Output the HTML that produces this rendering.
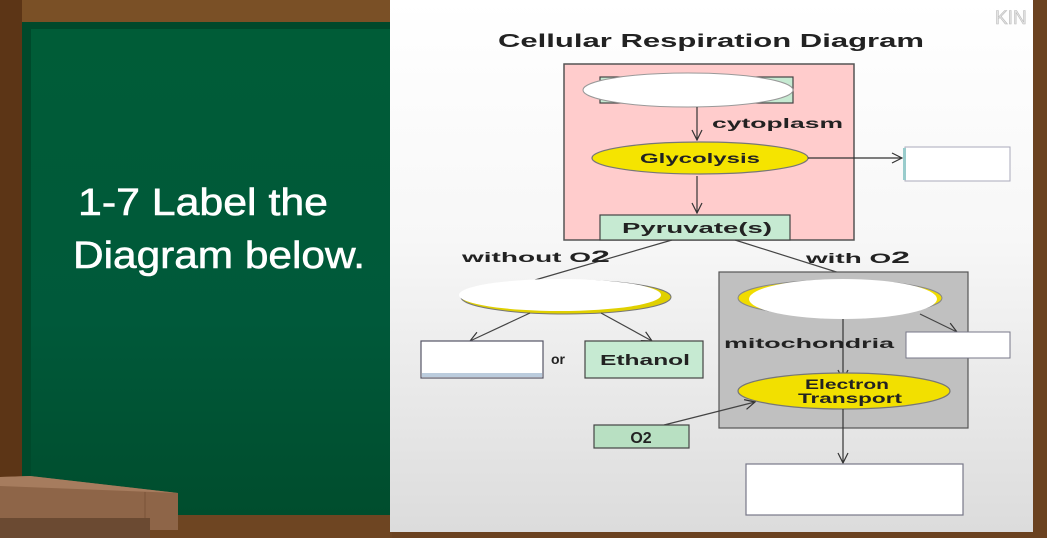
<!DOCTYPE html>
<html><head><meta charset="utf-8"><style>
html,body{margin:0;padding:0;width:1047px;height:538px;overflow:hidden;background:#6b4220}
svg{display:block}
</style></head><body>
<svg width="1047" height="538" viewBox="0 0 1047 538" xmlns="http://www.w3.org/2000/svg" font-family="Liberation Sans, sans-serif">
<defs>
<linearGradient id="bg" x1="0" y1="0" x2="0" y2="1">
<stop offset="0" stop-color="#ffffff"/><stop offset="0.45" stop-color="#f7f7f7"/><stop offset="1" stop-color="#dcdcdc"/></linearGradient>
<linearGradient id="gb" x1="0" y1="0" x2="0" y2="1">
<stop offset="0" stop-color="#005c37"/><stop offset="0.6" stop-color="#00593a"/><stop offset="1" stop-color="#004d2d"/></linearGradient>
<marker id="ah" markerWidth="12" markerHeight="12" refX="11" refY="6" orient="auto" markerUnits="userSpaceOnUse">
<path d="M1,1 L11,6 L1,11" fill="none" stroke="#333" stroke-width="1.2"/></marker>
</defs>
<rect x="0" y="0" width="1047" height="538" fill="#6b4220"/>
<rect x="0" y="0" width="400" height="22" fill="#7a5026"/>
<rect x="0" y="0" width="22" height="538" fill="#5c3516"/>
<rect x="22" y="22" width="370" height="495" fill="#00492b"/>
<rect x="31" y="29" width="361" height="486" fill="url(#gb)"/>
<rect x="22" y="515" width="370" height="23" fill="#6e4522"/>
<polygon points="0,477 30,476 178,493 178,530 0,530" fill="#8e6548"/>
<polygon points="0,477 30,476 178,493 0,486" fill="#a67c5e"/>
<line x1="145" y1="492" x2="145" y2="530" stroke="#7a5338" stroke-width="1"/>
<rect x="0" y="518" width="150" height="20" fill="#6b4a32"/>
<text x="78" y="215" font-size="38" fill="#fff" textLength="250" lengthAdjust="spacingAndGlyphs" stroke="#fff" stroke-width="0.6">1-7 Label the</text>
<text x="73" y="268" font-size="38" fill="#fff" textLength="292" lengthAdjust="spacingAndGlyphs" stroke="#fff" stroke-width="0.6">Diagram below.</text>
<rect x="390" y="0" width="643" height="532" fill="url(#bg)"/>
<text x="995" y="24" font-size="19" fill="#e4e4e4" stroke="#bbb" stroke-width="0.6">KIN</text>
<rect x="1033" y="0" width="14" height="538" fill="#6b4220"/>
<text x="711" y="47" font-size="18" font-weight="bold" text-anchor="middle" fill="#222" textLength="426" lengthAdjust="spacingAndGlyphs">Cellular Respiration Diagram</text>

<rect x="564" y="64" width="290" height="176" fill="#ffcccc" stroke="#555" stroke-width="1.5"/>
<rect x="600" y="77" width="193" height="26" fill="#c6ead2" stroke="#444" stroke-width="1.2"/>
<ellipse cx="688" cy="90" rx="105" ry="17" fill="#fff" stroke="#999" stroke-width="1"/>
<line x1="697" y1="107" x2="697" y2="140" stroke="#333" stroke-width="1.2" marker-end="url(#ah)"/>
<text x="712" y="128" font-size="14" font-weight="bold" fill="#222" textLength="131" lengthAdjust="spacingAndGlyphs">cytoplasm</text>
<ellipse cx="700" cy="158" rx="108" ry="16" fill="#f5e400" stroke="#777" stroke-width="1.2"/>
<text x="700" y="163" font-size="14" font-weight="bold" text-anchor="middle" fill="#222" textLength="120" lengthAdjust="spacingAndGlyphs">Glycolysis</text>
<line x1="808" y1="158" x2="902" y2="158" stroke="#333" stroke-width="1.2" marker-end="url(#ah)"/>
<rect x="905" y="147" width="105" height="34" fill="#fff" stroke="#aab" stroke-width="1"/>
<rect x="903" y="148" width="3" height="32" fill="#9cc"/>
<line x1="697" y1="176" x2="697" y2="213" stroke="#333" stroke-width="1.2" marker-end="url(#ah)"/>
<rect x="600" y="215" width="190" height="25" fill="#c6ead2" stroke="#444" stroke-width="1.2"/>
<text x="697" y="233" font-size="15" font-weight="bold" text-anchor="middle" fill="#222" textLength="150" lengthAdjust="spacingAndGlyphs">Pyruvate(s)</text>

<line x1="672" y1="240" x2="535" y2="280" stroke="#444" stroke-width="1.2"/>
<line x1="735" y1="240" x2="846" y2="275" stroke="#444" stroke-width="1.2"/>
<text x="462" y="262" font-size="14" font-weight="bold" fill="#222" textLength="148" lengthAdjust="spacingAndGlyphs">without O<tspan font-size="17">2</tspan></text>
<text x="806" y="263" font-size="14" font-weight="bold" fill="#222" textLength="104" lengthAdjust="spacingAndGlyphs">with O<tspan font-size="17">2</tspan></text>

<ellipse cx="566" cy="297" rx="105" ry="17" fill="#e0d000" stroke="#777"/>
<ellipse cx="560" cy="295" rx="101" ry="16" fill="#fff"/>
<line x1="530" y1="313" x2="470" y2="341" stroke="#444" stroke-width="1.2" marker-end="url(#ah)"/>
<line x1="601" y1="313" x2="652" y2="341" stroke="#444" stroke-width="1.2" marker-end="url(#ah)"/>
<rect x="421" y="341" width="122" height="37" fill="#fff" stroke="#556" stroke-width="1.2"/>
<rect x="422" y="373" width="120" height="4" fill="#bcd"/>
<text x="551" y="364" font-size="14" font-weight="bold" fill="#222">or</text>
<rect x="585" y="341" width="118" height="37" fill="#c6ead2" stroke="#444" stroke-width="1.2"/>
<text x="645" y="365" font-size="15" font-weight="bold" text-anchor="middle" fill="#222" textLength="90" lengthAdjust="spacingAndGlyphs">Ethanol</text>

<rect x="719" y="272" width="249" height="156" fill="#c0c0c0" stroke="#555" stroke-width="1.2"/>
<ellipse cx="840" cy="298" rx="102" ry="18" fill="#f0dc00" stroke="#888"/>
<ellipse cx="843" cy="299" rx="94" ry="20" fill="#fff"/>
<line x1="843" y1="319" x2="843" y2="380" stroke="#333" stroke-width="1.2" marker-end="url(#ah)"/>
<line x1="920" y1="314" x2="957" y2="332" stroke="#444" stroke-width="1.2" marker-end="url(#ah)"/>
<rect x="906" y="332" width="104" height="26" fill="#fff" stroke="#778" stroke-width="1"/>
<text x="724" y="348" font-size="14" font-weight="bold" fill="#222" textLength="170" lengthAdjust="spacingAndGlyphs">mitochondria</text>
<ellipse cx="844" cy="391" rx="106" ry="18" fill="#f2e000" stroke="#777" stroke-width="1.2"/>
<text x="847" y="389" font-size="14" font-weight="bold" text-anchor="middle" fill="#222" textLength="84" lengthAdjust="spacingAndGlyphs">Electron</text>
<text x="850" y="403" font-size="14" font-weight="bold" text-anchor="middle" fill="#222" textLength="104" lengthAdjust="spacingAndGlyphs">Transport</text>
<line x1="664" y1="425" x2="755" y2="402" stroke="#444" stroke-width="1.2" marker-end="url(#ah)"/>
<rect x="594" y="425" width="95" height="23" fill="#b8e0c2" stroke="#444" stroke-width="1.2"/>
<text x="641" y="443" font-size="16" font-weight="bold" text-anchor="middle" fill="#222">O2</text>
<line x1="843" y1="409" x2="843" y2="463" stroke="#333" stroke-width="1.2" marker-end="url(#ah)"/>
<rect x="746" y="464" width="217" height="51" fill="#fff" stroke="#778" stroke-width="1.2"/>
</svg>
</body></html>
